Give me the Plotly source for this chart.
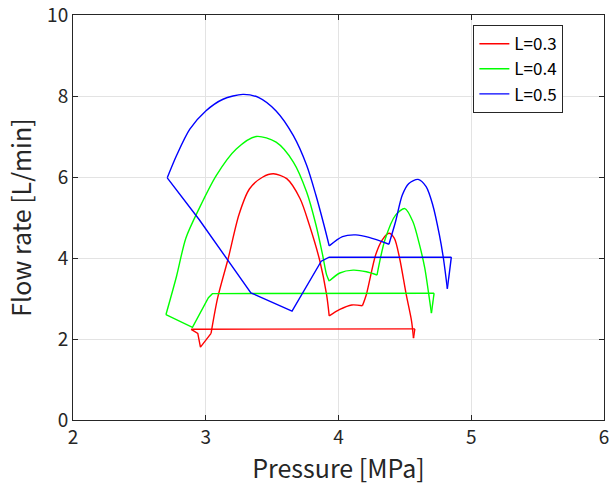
import plotly.graph_objects as go

red_x = [4.575, 2.89, 2.94, 2.96, 3.04, 3.09, 3.17, 3.25, 3.33, 3.43, 3.51, 3.61, 3.71, 3.78, 3.86, 3.91, 3.93,
         4.01, 4.10, 4.18, 4.21, 4.28, 4.33, 4.38, 4.42, 4.46, 4.51, 4.55, 4.565, 4.575]
red_y = [2.25, 2.24, 2.14, 1.80, 2.14, 3.02, 4.00, 5.07, 5.71, 6.00, 6.08, 5.96, 5.47, 4.82, 3.92, 3.10, 2.57,
         2.73, 2.84, 2.82, 3.10, 4.08, 4.45, 4.61, 4.49, 4.00, 3.10, 2.45, 2.02, 2.25]

green_x = [4.72, 3.05, 3.02, 2.90, 2.70, 2.78, 2.85, 2.95, 3.08, 3.23, 3.38, 3.53, 3.66, 3.76, 3.83, 3.88, 3.91, 3.93,
           4.01, 4.11, 4.21, 4.29, 4.35, 4.43, 4.50, 4.56, 4.61, 4.65, 4.68, 4.70, 4.72]
green_y = [3.13, 3.12, 3.02, 2.29, 2.60, 3.55, 4.49, 5.22, 6.04, 6.69, 7.00, 6.86, 6.37, 5.63, 4.82, 4.08, 3.59, 3.43,
           3.63, 3.70, 3.66, 3.58, 4.45, 5.06, 5.22, 4.90, 4.33, 3.75, 3.10, 2.64, 3.13]

blue_x = [4.85, 3.93, 3.87, 3.65, 3.34, 2.95, 2.71, 2.78, 2.88, 3.00, 3.13, 3.28, 3.40, 3.53, 3.66, 3.76, 3.83, 3.89, 3.93,
          4.03, 4.13, 4.23, 4.38, 4.43, 4.48, 4.53, 4.60, 4.66, 4.71, 4.76, 4.79, 4.82, 4.85]
blue_y = [4.02, 4.02, 3.92, 2.69, 3.14, 4.95, 5.98, 6.53, 7.18, 7.63, 7.92, 8.04, 7.96, 7.63, 7.02, 6.29, 5.55, 4.82, 4.30,
          4.53, 4.57, 4.51, 4.34, 4.90, 5.55, 5.84, 5.94, 5.76, 5.31, 4.57, 4.00, 3.24, 4.02]

# (start index, end index, smooth?) pieces of each closed path
red_pieces = [(0, 4, False), (4, 16, True), (16, 19, True), (19, 28, True), (28, 29, False)]
green_pieces = [(0, 4, False), (4, 17, True), (17, 21, True), (21, 29, True), (29, 30, False)]
blue_pieces = [(0, 6, False), (6, 18, True), (18, 22, True), (22, 31, True), (31, 32, False)]

series = [("L=0.3", red_x, red_y, red_pieces, "#ff0000"),
          ("L=0.4", green_x, green_y, green_pieces, "#00ff00"),
          ("L=0.5", blue_x, blue_y, blue_pieces, "#0000ff")]

x_ticks = [2, 3, 4, 5, 6]
y_ticks = [0, 2, 4, 6, 8, 10]

FONT = "Noto Sans CJK JP"
AX = "#262626"

fig = go.Figure()
for name, xs, ys, pieces, col in series:
    for k, (a, b, smooth) in enumerate(pieces):
        fig.add_trace(go.Scatter(
            x=xs[a:b + 1], y=ys[a:b + 1], mode="lines", name=name,
            legendgroup=name, showlegend=(k == 0),
            line=dict(color=col, width=1.4,
                      shape="spline" if smooth else "linear",
                      smoothing=0.8 if smooth else None)))

axis_common = dict(showline=True, linecolor=AX, linewidth=1, mirror="ticks",
                   ticks="inside", ticklen=5, tickcolor=AX, showgrid=True,
                   gridcolor="#e3e3e3", gridwidth=1, zeroline=False,
                   ticklabeloverflow="allow", automargin=False,
                   tickfont=dict(family=FONT, size=19, color=AX))

fig.update_layout(
    width=610, height=488,
    margin=dict(l=73, r=6, t=15, b=68),
    paper_bgcolor="white", plot_bgcolor="white",
    font=dict(family=FONT, color=AX),
    xaxis=dict(range=[2, 6], tickvals=x_ticks,
               title=dict(text="Pressure [MPa]", font=dict(family=FONT, size=25, color=AX), standoff=0),
               **axis_common),
    yaxis=dict(range=[0, 10], tickvals=y_ticks,
               title=dict(text="Flow rate [L/min]", font=dict(family=FONT, size=25, color=AX), standoff=8),
               **axis_common),
    legend=dict(x=0.754, y=0.975, xanchor="left", yanchor="top",
                bgcolor="white", bordercolor=AX, borderwidth=1,
                font=dict(family=FONT, size=17, color="#000000"),
                tracegroupgap=0),
    showlegend=True,
)

fig.write_html("out.html", config={"displayModeBar": False},
               post_script="document.body.style.margin='0';")
